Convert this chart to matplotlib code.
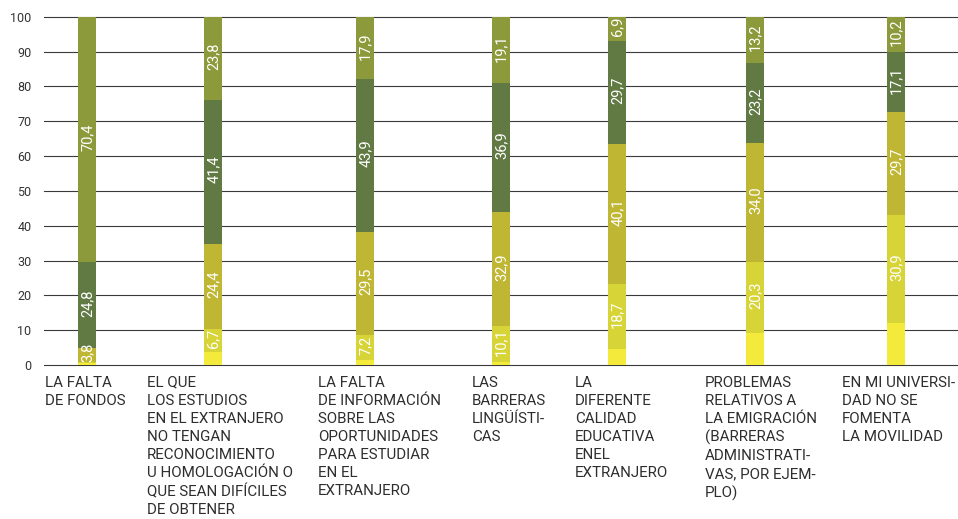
import matplotlib
matplotlib.use("Agg")
import matplotlib.pyplot as plt
import numpy as np

categories = [
    "LA FALTA\nDE FONDOS",
    "EL QUE\nLOS ESTUDIOS\nEN EL EXTRANJERO\nNO TENGAN\nRECONOCIMIENTO\nU HOMOLOGACIÓN O\nQUE SEAN DIFÍCILES\nDE OBTENER",
    "LA FALTA\nDE INFORMACIÓN\nSOBRE LAS\nOPORTUNIDADES\nPARA ESTUDIAR\nEN EL\nEXTRANJERO",
    "LAS\nBARRERAS\nLINGÜÍSTI-\nCAS",
    "LA\nDIFERENTE\nCALIDAD\nEDUCATIVA\nENEL\nEXTRANJERO",
    "PROBLEMAS\nRELATIVOS A\nLA EMIGRACIÓN\n(BARRERAS\nADMINISTRATI-\nVAS, POR EJEM-\nPLO)",
    "EN MI UNIVERSI-\nDAD NO SE\nFOMENTA\nLA MOVILIDAD",
]

# stacked segments, bottom to top
seg1 = [0.5, 3.7, 1.5, 1.0, 4.6, 9.3, 12.1]        # bright yellow (unlabeled)
seg2 = [0.5, 6.7, 7.2, 10.1, 18.7, 20.3, 30.9]     # light yellow
seg3 = [3.8, 24.4, 29.5, 32.9, 40.1, 34.0, 29.7]   # olive yellow
seg4 = [24.8, 41.4, 43.9, 36.9, 29.7, 23.2, 17.1]  # dark green
seg5 = [70.4, 23.8, 17.9, 19.1, 6.9, 13.2, 10.2]   # olive green

yticks = [0, 10, 20, 30, 40, 50, 60, 70, 80, 90, 100]

# layout (pixel-like x units)
bar_x = [87, 213, 365, 501, 617, 755, 896]
label_x = [45, 147, 318, 472, 575, 705, 842]
colors = ["#f4ea3b", "#d6d436", "#bfb734", "#617a44", "#8c9a3b"]

plt.rcParams['font.family'] = ['Roboto', 'DejaVu Sans']

W, H = 958, 519
fig = plt.figure(figsize=(W / 100, H / 100), dpi=100)
ax_left, ax_right = 44, 958
y0_px, y100_px = 365, 16.7
ax = fig.add_axes([ax_left / W, 1 - y0_px / H, (ax_right - ax_left) / W, (y0_px - y100_px) / H])
ax.set_xlim(ax_left, ax_right)
ax.set_ylim(0, 100)

for t in yticks:
    ax.axhline(t, color="#3a3a3a", lw=0.8, zorder=1, clip_on=False)

series = [seg1, seg2, seg3, seg4, seg5]
bottom = np.zeros(len(bar_x))
for si, (vals, c) in enumerate(zip(series, colors)):
    vals = np.array(vals)
    ax.bar(bar_x, vals, width=18, bottom=bottom, color=c, zorder=2, linewidth=0)
    if si >= 1:
        for x, b, v in zip(bar_x, bottom, vals):
            if v >= 2:
                ax.text(x + 0.5, b + v / 2 + 0.6, f"{v:.1f}".replace('.', ','),
                        rotation=90, ha='center', va='center', color='white',
                        fontsize=10.5, zorder=3)
    bottom += vals

ax.set_yticks(yticks)
ax.set_yticklabels([str(t) for t in yticks], fontsize=9, color="#333333")
ax.tick_params(axis='y', length=0, pad=9)
ax.set_xticks([])
for s in ax.spines.values():
    s.set_visible(False)

for lx, lab in zip(label_x, categories):
    ax.text(lx, -0.031, lab, transform=ax.get_xaxis_transform(), ha='left', va='top',
            fontsize=10.9, color="#2e2e2e", linespacing=1.36)

fig.savefig("out.png", dpi=100)
